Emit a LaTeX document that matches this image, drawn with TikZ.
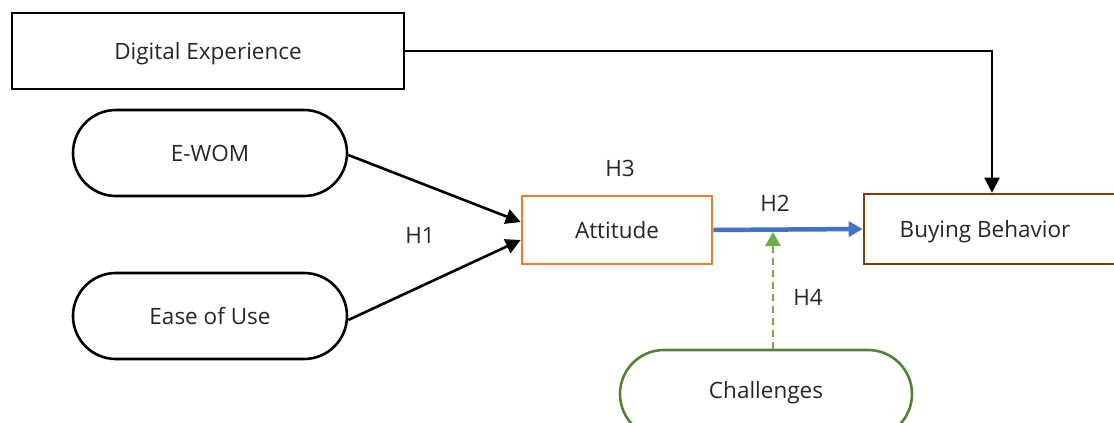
\documentclass[tikz,border=0pt]{standalone}
\usepackage{fontspec}
\setmainfont{Open Sans}
\usetikzlibrary{arrows.meta,calc}
\definecolor{blueA}{HTML}{4472C4}
\definecolor{orangeA}{HTML}{ED7D31}
\definecolor{brownA}{HTML}{843C0C}
\definecolor{greenA}{HTML}{548235}
\definecolor{greenB}{HTML}{70AD47}
\tikzset{
  txt/.style={font=\fontsize{22.5}{26}\selectfont, text=black!85, text height=16pt, text depth=0pt},
  lbl/.style={txt, inner sep=0pt},
  boxA/.style={draw, line width=2.6pt, inner sep=0pt, txt},
  pill/.style={boxA, minimum width=274pt, minimum height=86pt, rounded corners=43pt},
  arr/.style={line width=2.6pt, -{Triangle[length=15pt,width=15pt]}},
}
\begin{document}
\begin{tikzpicture}[x=1pt,y=-1pt]
\useasboundingbox (0,0) rectangle (1114,423);
\node[boxA, minimum width=392pt, minimum height=76pt] (de) at (208,51) {Digital Experience};
\node[pill] (ewom) at (210,153) {E-WOM};
\node[pill] (eou) at (210,316) {Ease of Use};
\node[boxA, draw=orangeA, minimum width=190pt, minimum height=68pt] (att) at (617,230) {Attitude};
\node[boxA, draw=brownA, minimum width=256pt, minimum height=70pt] (bb) at (992,229) {\hspace*{-14pt}Buying Behavior};
\node[pill, draw=greenA, minimum width=292pt, minimum height=88pt, rounded corners=44pt] (ch) at (766,394) {\raisebox{4pt}{Challenges}};
\coordinate (m) at (773,232);
\node[lbl] (h3) at (620,168) {H3};
\node[lbl] (h2) at (775,203) {H2};
\node[lbl] (h1) at (420,235) {H1};
\node[lbl] (h4) at (808,297) {H4};
\draw[arr] (de.east) -| (bb.north);
\draw[arr] ([yshift=-2pt]ewom.east) -- ([yshift=8pt]att.west);
\draw[arr] ([yshift=-4pt]eou.east) -- ([yshift=-10pt]att.west);
\draw[arr, draw=blueA, fill=blueA, line width=4.5pt, -{Triangle[length=14pt,width=15pt]}] (att.east) -- (bb.west);
\draw[arr, draw=greenB, line width=2.8pt, dash pattern=on 7pt off 5pt, -{Triangle[length=14pt,width=15pt]}] ([xshift=7pt]ch.north) -- (m);
\end{tikzpicture}
\end{document}
